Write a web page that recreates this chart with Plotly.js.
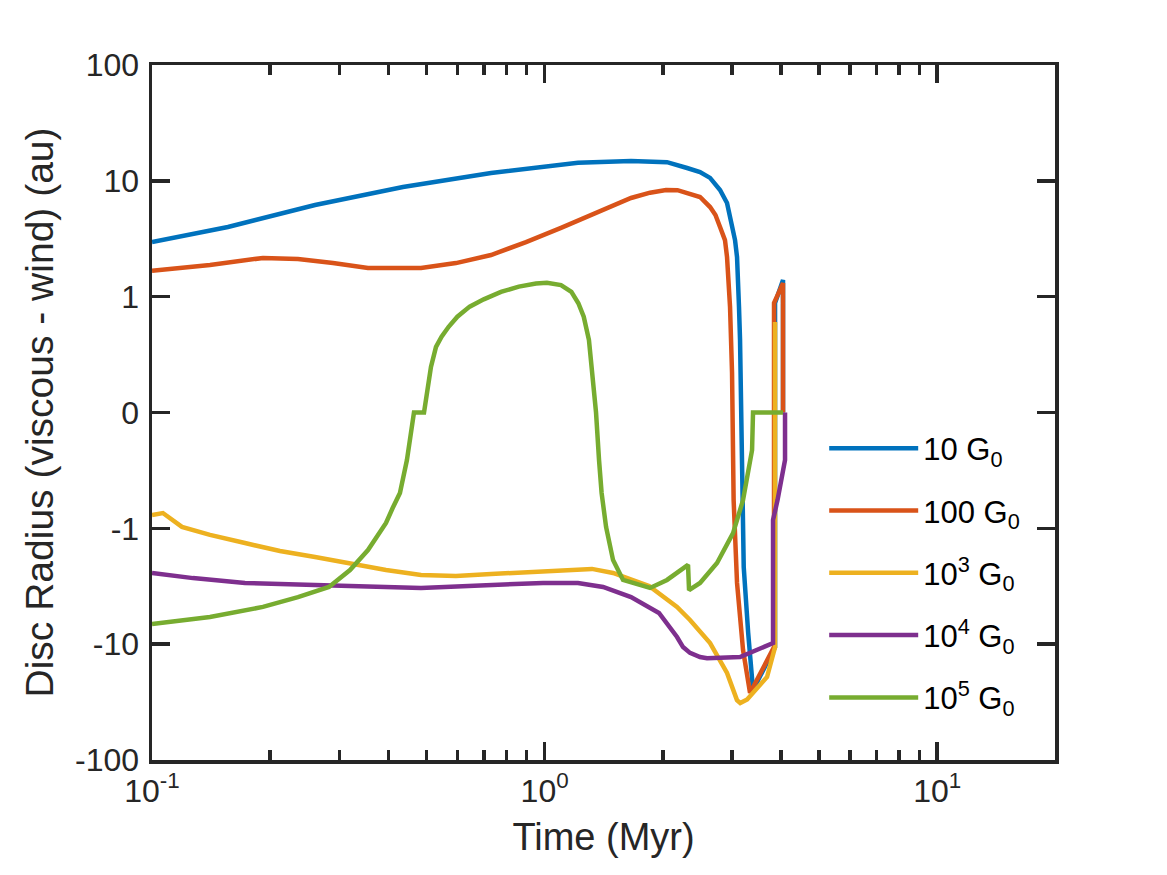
<!DOCTYPE html>
<html>
<head>
<meta charset="utf-8">
<script src="https://cdn.plot.ly/plotly-3.0.1.min.js"></script>
<style>html,body{margin:0;padding:0;background:#fff;}#chart{width:1167px;height:875px;}</style>
</head>
<body>
<div id="chart"></div>
<script>
// ---- Data (time in Myr, disc radius difference in au) ----
const seriesNames = ['10 G<sub>0</sub>', '100 G<sub>0</sub>', '10<sup>3</sup> G<sub>0</sub>', '10<sup>4</sup> G<sub>0</sub>', '10<sup>5</sup> G<sub>0</sub>'];
const seriesColors = ['#0072BD', '#D95319', '#EDB120', '#7E2F8E', '#77AC30'];

const timeG10 = [0.100,0.1561,0.2602,0.4357,0.7304,1.216,1.660,2.050,2.306,2.488,2.639,2.798,2.915,2.967,3.020,3.055,3.091,3.109,3.127,3.146,3.183,3.195,3.215,3.300,3.395,3.863,3.863,4.048,4.048];
const radG10  = [2.96,3.99,6.19,8.85,11.7,14.3,14.8,14.5,12.9,11.9,10.6,8.34,6.44,4.87,3.76,3.08,2.20,1.60,0.911,0.63,-0.24,-0.76,-2.16,-8.0,-24.9,-10.6,0.945,1.39,0];

const timeG100 = [0.100,0.1405,0.1917,0.2354,0.2891,0.3549,0.4844,0.5945,0.7304,0.8966,1.101,1.352,1.660,1.856,2.038,2.180,2.306,2.488,2.639,2.724,2.798,2.88,2.915,2.967,3.002,3.020,3.030,3.091,3.202,3.336,3.84,3.84,4.048,4.048];
const radG100  = [1.67,1.88,2.16,2.11,1.95,1.77,1.77,1.95,2.29,2.96,3.92,5.28,7.11,7.9,8.34,8.3,7.86,7.25,5.94,5.07,3.99,3.08,2.20,0.911,0.341,-0.237,-0.756,-2.96,-11.2,-26.4,-10.6,0.945,1.31,0];

const timeG1e3 = [0.100,0.1066,0.1192,0.1405,0.1725,0.2118,0.2602,0.3194,0.3945,0.4844,0.5945,0.7304,0.8966,1.101,1.320,1.494,1.845,2.174,2.346,2.639,2.915,3.09,3.15,3.28,3.686,3.863,3.863];
const radG1e3  = [-0.885,-0.868,-0.988,-1.14,-1.34,-1.57,-1.77,-2.03,-2.29,-2.53,-2.58,-2.48,-2.38,-2.29,-2.24,-2.43,-3.15,-4.77,-6.19,-9.78,-17.7,-30.4,-32.2,-30.0,-19.2,-10.6,0.781];

const timeG1e4 = [0.100,0.1272,0.1725,0.2354,0.3194,0.4844,0.7304,0.9906,1.216,1.409,1.660,1.956,2.174,2.252,2.346,2.488,2.593,3.146,3.818,3.818,3.92,4.03,4.096,4.096];
const radG1e4  = [-2.43,-2.69,-2.96,-3.08,-3.15,-3.27,-3.08,-2.96,-2.96,-3.21,-3.92,-5.38,-8.67,-10.6,-11.9,-12.9,-13.2,-12.9,-9.78,-0.928,-0.756,-0.558,-0.41,0];

const timeG1e5 = [0.100,0.1405,0.1917,0.2354,0.2823,0.3194,0.3549,0.3737,0.3945,0.4099,0.4281,0.4460,0.4648,0.4930,0.5035,0.5135,0.5289,0.5465,0.5696,0.5995,0.6444,0.6998,0.7741,0.8597,0.9508,1.0137,1.101,1.170,1.219,1.258,1.297,1.324,1.352,1.376,1.397,1.434,1.494,1.584,1.856,2.050,2.319,2.333,2.488,2.749,3.020,3.202,3.376,3.395,4.048];
const radG1e5  = [-6.70,-5.83,-4.77,-3.92,-3.21,-2.29,-1.54,-1.18,-0.954,-0.827,-0.695,-0.41,0,0,0.227,0.393,0.566,0.654,0.740,0.827,0.914,0.977,1.10,1.22,1.30,1.32,1.26,1.10,0.943,0.827,0.626,0.338,0,-0.41,-0.695,-0.988,-1.88,-2.79,-3.27,-2.79,-2.07,-3.41,-2.96,-1.99,-1.10,-0.756,-0.324,0,0];

const yTickValues = [-100, -10, -1, 0, 1, 10, 100];
const yTickLabels = ['-100', '-10', '-1', '0', '1', '10', '100'];
const xTickValues = [0.1, 1, 10];
const xTickLabels = ['10<sup>-1</sup>', '10<sup>0</sup>', '10<sup>1</sup>'];
const xMinorValues = [0.2,0.3,0.4,0.5,0.6,0.7,0.8,0.9,2,3,4,5,6,7,8,9];

// ---- symmetric-log scale (linear between -1 and 1) ----
function symlog(v) {
  const a = Math.abs(v);
  return a < 1 ? v : Math.sign(v) * (1 + Math.log10(a));
}

const allTimes = [timeG10, timeG100, timeG1e3, timeG1e4, timeG1e5];
const allRads = [radG10, radG100, radG1e3, radG1e4, radG1e5];

const traces = allTimes.map((t, i) => ({
  x: t,
  y: allRads[i].map(symlog),
  type: 'scatter',
  mode: 'lines',
  name: seriesNames[i],
  legendgroup: 'g' + i,
  line: {color: seriesColors[i], width: 4.5},
  hoverinfo: 'skip'
}));

const axisColor = '#262626';
const layout = {
  width: 1167, height: 875,
  margin: {l: 152, r: 112, t: 65, b: 115},
  paper_bgcolor: '#ffffff', plot_bgcolor: '#ffffff',
  font: {family: '"Liberation Sans", Arial, sans-serif', size: 30, color: axisColor},
  showlegend: true,
  xaxis: {
    type: 'log', range: [-1, 1.3],
    tickmode: 'array', tickvals: xTickValues, ticktext: xTickLabels,
    ticks: 'inside', ticklen: 18, tickwidth: 3.5, tickcolor: axisColor,
    showline: true, linewidth: 3.5, linecolor: axisColor, mirror: 'allticks',
    showgrid: false, zeroline: false,
    minor: {tickmode: 'array', tickvals: xMinorValues, ticks: 'inside', ticklen: 10, tickwidth: 3.5, tickcolor: axisColor, showgrid: false},
    tickfont: {size: 32},
    title: {text: 'Time (Myr)', font: {size: 38}, standoff: 16}
  },
  yaxis: {
    range: [-3, 3],
    tickmode: 'array', tickvals: yTickValues.map(symlog), ticktext: yTickLabels,
    ticks: 'inside', ticklen: 18, tickwidth: 3.5, tickcolor: axisColor,
    showline: true, linewidth: 3.5, linecolor: axisColor, mirror: 'allticks',
    showgrid: false, zeroline: false,
    tickfont: {size: 32}, ticklabelstandoff: 3,
    title: {text: 'Disc Radius (viscous - wind) (au)', font: {size: 39}, standoff: 10}
  },
  legend: {
    x: 0.7444, y: 0.487, xanchor: 'left', yanchor: 'top',
    bgcolor: 'rgba(0,0,0,0)', borderwidth: 0,
    itemwidth: 89, traceorder: 'grouped', tracegroupgap: 19,
    font: {size: 31, color: '#000000'}
  }
};

Plotly.newPlot('chart', traces, layout, {staticPlot: true, displayModeBar: false});
</script>
</body>
</html>
